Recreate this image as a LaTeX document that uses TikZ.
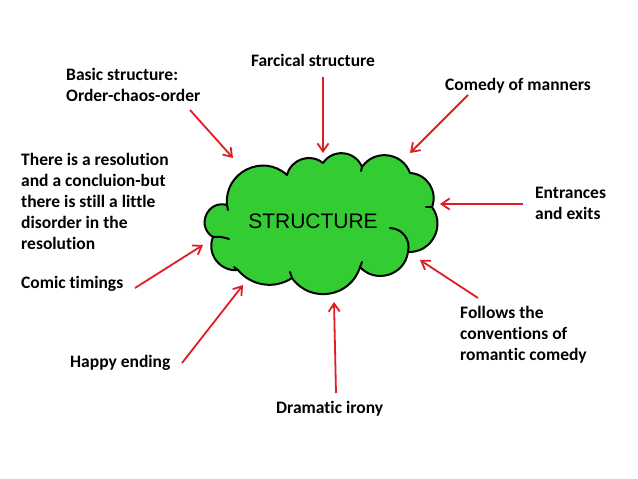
\documentclass[tikz,border=0pt]{standalone}
\usepackage{fontspec}
\setmainfont{Carlito}[Ligatures={NoCommon}]
\newfontfamily\arialf{Liberation Sans}
\usetikzlibrary{arrows.meta}
\definecolor{cloudgreen}{RGB}{51,204,51}
\definecolor{arrowred}{RGB}{222,30,36}
\begin{document}
\begin{tikzpicture}[x=1pt,y=1pt,
  lbl/.style={font=\bfseries\fontsize{17.5}{21}\selectfont, inner sep=0pt, align=left, anchor=west},
  arr/.style={draw=arrowred, line width=1.8pt, -{Straight Barb[length=8pt,width=11pt]}},
  cloudline/.style={draw=black, line width=2pt, line join=round, line cap=round}]
\useasboundingbox (0,0) rectangle (638,-479);
\fill[white] (0,0) rectangle (638,-479);
% cloud outline
\draw[cloudline, fill=cloudgreen] (213,-237)
  to[bend left=82, looseness=1.49] (227,-205)
  to[bend left=69, looseness=1.25] (287,-175)
  to[bend left=57, looseness=1.11] (323,-163)
  to[bend left=62, looseness=1.16] (362,-167)
  to[bend left=63, looseness=1.17] (410,-173)
  to[bend left=54, looseness=1.07] (432,-207)
  to[bend left=64, looseness=1.19] (408,-252)
  to[bend left=65, looseness=1.19] (360,-267)
  to[bend left=64, looseness=1.18] (292,-278)
  to[bend left=42, looseness=0.98] (238,-270)
  to[bend left=59, looseness=1.12] (213,-237) -- cycle;
% inner strokes of the cloud
\draw[cloudline] (213,-237) to[bend left=12] (229,-239);
\draw[cloudline] (390,-228) to[bend left=50, looseness=1.08] (408,-252);
\draw[cloudline] (432,-207) -- (426,-207);
\draw[cloudline] (360,-267) -- (362,-262);
\draw[cloudline] (292,-278) -- (290,-272);
\draw[cloudline] (238,-270) -- (234,-267);
\draw[cloudline] (227,-205) -- (228,-210);
\draw[cloudline] (362,-167) -- (361,-171);
\node[font=\arialf\fontsize{21}{25}\selectfont, inner sep=0pt] (cloud) at (313,-221) {STRUCTURE};
% labels
\node[lbl, anchor=center] (farc) at (313,-60) {Farcical structure};
\node[lbl] (basic) at (66,-84.5) {Basic structure:\\Order-chaos-order};
\node[lbl] (manners) at (445,-86) {Comedy of manners};
\node[lbl] (resol) at (21,-201) {There is a resolution\\and a concluion-but\\there is still a little\\disorder in the\\resolution};
\node[lbl] (entr) at (535,-203.5) {Entrances\\and exits};
\node[lbl] (comic) at (21,-284) {Comic timings};
\node[lbl] (follows) at (460,-335) {Follows the\\conventions of\\romantic comedy};
\node[lbl] (happy) at (70,-363) {Happy ending};
\node[lbl] (irony) at (276,-409) {Dramatic irony};
% arrow ends
\coordinate (tFarc) at (323,-77);    \coordinate (hFarc) at (323,-153);
\coordinate (tBasic) at (190,-110);  \coordinate (hBasic) at (233,-158);
\coordinate (tMan) at (468,-95);     \coordinate (hMan) at (410,-153);
\coordinate (tEntr) at (523,-204);   \coordinate (hEntr) at (440,-204);
\coordinate (tFol) at (478,-298);    \coordinate (hFol) at (420,-260);
\coordinate (tIro) at (336,-393);    \coordinate (hIro) at (334,-302);
\coordinate (tHap) at (182,-363);    \coordinate (hHap) at (243,-285);
\coordinate (tCom) at (135,-288);    \coordinate (hCom) at (203,-245);
\draw[arr] (tFarc) -- (hFarc);
\draw[arr] (tBasic) -- (hBasic);
\draw[arr] (tMan) -- (hMan);
\draw[arr] (tEntr) -- (hEntr);
\draw[arr] (tFol) -- (hFol);
\draw[arr] (tIro) -- (hIro);
\draw[arr] (tHap) -- (hHap);
\draw[arr] (tCom) -- (hCom);
\end{tikzpicture}
\end{document}
